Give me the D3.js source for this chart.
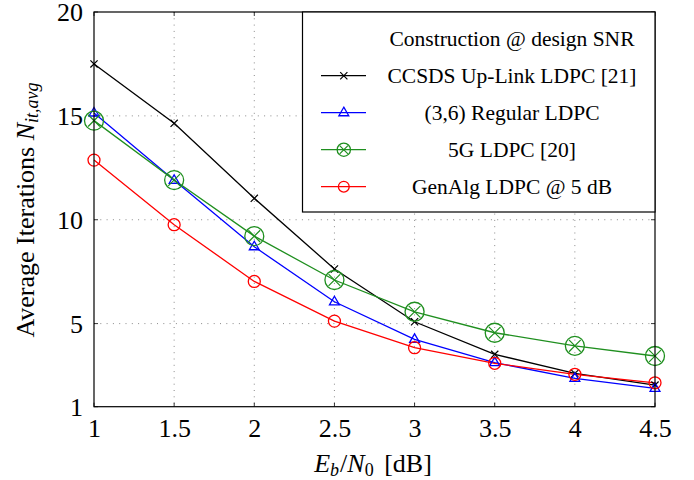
<!DOCTYPE html>
<html><head><meta charset="utf-8">
<script src="https://cdn.jsdelivr.net/npm/d3@7"></script>
<style>body{margin:0;background:#fff}svg{display:block}text{font-family:"Liberation Serif","Times New Roman",serif}</style>
</head><body><svg id="c" width="694" height="480"></svg>
<script>
const snr = [1, 1.5, 2, 2.5, 3, 3.5, 4, 4.5];
const ccsds = [17.5, 14.64, 11.03, 7.63, 5.09, 3.52, 2.60, 2.04];
const regular = [15.14, 11.9, 8.70, 6.05, 4.24, 3.12, 2.36, 1.88];
const fiveG = [14.77, 11.91, 9.21, 7.10, 5.57, 4.56, 3.93, 3.44];
const genAlg = [12.87, 9.76, 7.03, 5.12, 3.84, 3.09, 2.56, 2.15];
const xTicks = [1, 1.5, 2, 2.5, 3, 3.5, 4, 4.5];
const yTicks = [1, 5, 10, 15, 20];
const legendTitle = "Construction @ design SNR";
const seriesNames = ["CCSDS Up-Link LDPC [21]", "(3,6) Regular LDPC", "5G LDPC [20]", "GenAlg LDPC @ 5 dB"];

const svg = d3.select("#c");
const L = 94, R = 655, T = 12, B = 406.7;
const x = d3.scaleLinear().domain([1, 4.5]).range([L, R]);
const y = d3.scaleLinear().domain([1, 20]).range([B, T]);

const series = [
  {name: seriesNames[0], values: ccsds, color: "#000000", marker: "x"},
  {name: seriesNames[1], values: regular, color: "#0000ff", marker: "tri"},
  {name: seriesNames[2], values: fiveG, color: "#1f8f1f", marker: "ox"},
  {name: seriesNames[3], values: genAlg, color: "#ff0000", marker: "o"}
];

// grid
const grid = svg.append("g");
xTicks.filter(t => t > 1 && t < 4.5).forEach(t => {
  grid.append("line").attr("x1", x(t)).attr("x2", x(t)).attr("y1", T).attr("y2", B)
    .attr("stroke", "#8a8a8a").attr("stroke-width", 1).attr("stroke-dasharray", "1,5.3");
});
yTicks.filter(t => t > 1 && t < 20).forEach(t => {
  grid.append("line").attr("x1", L).attr("x2", R).attr("y1", y(t)).attr("y2", y(t))
    .attr("stroke", "#8a8a8a").attr("stroke-width", 1).attr("stroke-dasharray", "1,5.3");
});

// axes
const xAxis = d3.axisBottom(x).tickValues(xTicks).tickSize(0).tickPadding(12).tickFormat(d3.format("~g"));
const gx = svg.append("g").attr("transform", `translate(0,${B})`).call(xAxis);
gx.select(".domain").remove();
gx.selectAll("text").attr("font-size", 26).attr("fill", "#000").attr("font-family", "Liberation Serif");
const yAxis = d3.axisLeft(y).tickValues(yTicks).tickSize(0).tickPadding(11).tickFormat(d3.format("~g"));
const gy = svg.append("g").attr("transform", `translate(${L},0)`).call(yAxis);
gy.select(".domain").remove();
gy.selectAll("text").attr("font-size", 26).attr("fill", "#000").attr("font-family", "Liberation Serif").attr("dy", "0.34em");

// frame ticks
const ft = svg.append("g").attr("stroke", "#000").attr("stroke-width", 0.8);
xTicks.forEach(t => {
  ft.append("line").attr("x1", x(t)).attr("x2", x(t)).attr("y1", B).attr("y2", B - 4);
  ft.append("line").attr("x1", x(t)).attr("x2", x(t)).attr("y1", T).attr("y2", T + 4);
});
yTicks.forEach(t => {
  ft.append("line").attr("x1", L).attr("x2", L + 4).attr("y1", y(t)).attr("y2", y(t));
  ft.append("line").attr("x1", R).attr("x2", R - 4).attr("y1", y(t)).attr("y2", y(t));
});

function drawMarker(g, m, cx, cy, color, scale) {
  const s = scale || 1;
  if (m === "x") {
    const r = 3.6 * s;
    g.append("path").attr("d", `M${cx-r},${cy-r}L${cx+r},${cy+r}M${cx-r},${cy+r}L${cx+r},${cy-r}`)
      .attr("stroke", color).attr("stroke-width", 1.2).attr("fill", "none");
  } else if (m === "tri") {
    const r = 5.5 * s;
    g.append("path").attr("d", `M${cx},${cy-r}L${cx+r*0.9},${cy+r*0.55}L${cx-r*0.9},${cy+r*0.55}Z`)
      .attr("stroke", color).attr("stroke-width", 1.3).attr("fill", "none");
  } else if (m === "ox") {
    const r = 9.5 * s, d = r * 0.62;
    g.append("circle").attr("cx", cx).attr("cy", cy).attr("r", r).attr("stroke", color).attr("stroke-width", 1.3).attr("fill", "none");
    g.append("path").attr("d", `M${cx-d},${cy-d}L${cx+d},${cy+d}M${cx-d},${cy+d}L${cx+d},${cy-d}`)
      .attr("stroke", color).attr("stroke-width", 1.2);
  } else if (m === "o") {
    const r = 6 * s;
    g.append("circle").attr("cx", cx).attr("cy", cy).attr("r", r).attr("stroke", color).attr("stroke-width", 1.3).attr("fill", "none");
  }
}

// lines
const line = d3.line().x((d, i) => x(snr[i])).y(d => y(d));
const plot = svg.append("g");
series.forEach(s => {
  plot.append("path").datum(s.values).attr("d", line).attr("fill", "none")
    .attr("stroke", s.color).attr("stroke-width", 1.3);
});
series.forEach(s => {
  const g = plot.append("g");
  s.values.forEach((v, i) => drawMarker(g, s.marker, x(snr[i]), y(v), s.color, 1));
});

// frame
svg.append("rect").attr("x", L).attr("y", T).attr("width", R - L).attr("height", B - T)
  .attr("fill", "none").attr("stroke", "#000").attr("stroke-width", 1.2);

// legend
const lg = svg.append("g");
lg.append("rect").attr("x", 302.5).attr("y", T).attr("width", R - 302.5).attr("height", 212 - T)
  .attr("fill", "#fff").attr("stroke", "#000").attr("stroke-width", 1.2);
const textX = 512;
lg.append("text").attr("x", textX).attr("y", 38.6).attr("dy", "0.34em").attr("text-anchor", "middle")
  .attr("font-size", 21.5).text(legendTitle);
series.forEach((s, i) => {
  const cy = 75.7 + i * 37;
  lg.append("line").attr("x1", 321).attr("x2", 366).attr("y1", cy).attr("y2", cy)
    .attr("stroke", s.color).attr("stroke-width", 1.3);
  drawMarker(lg, s.marker, 343.8, cy, s.color, s.marker === "ox" ? 0.7 : (s.marker === "o" ? 0.9 : 1));
  lg.append("text").attr("x", textX).attr("y", cy).attr("dy", "0.34em").attr("text-anchor", "middle")
    .attr("font-size", 21.5).text(s.name);
});

// axis labels
const xl = svg.append("text").attr("x", 373).attr("y", 472).attr("text-anchor", "middle").attr("font-size", 26);
xl.append("tspan").attr("font-style", "italic").text("E");
xl.append("tspan").attr("font-style", "italic").attr("font-size", 18).attr("dy", 4).text("b");
xl.append("tspan").attr("dy", -4).attr("dx", 1).text("/");
xl.append("tspan").attr("font-style", "italic").text("N");
xl.append("tspan").attr("font-size", 18).attr("dy", 4).text("0");
xl.append("tspan").attr("dy", -4).attr("dx", 4).text(" [dB]");

const yl = svg.append("text").attr("transform", "translate(34,210) rotate(-90)").attr("text-anchor", "middle").attr("font-size", 26);
yl.append("tspan").text("Average Iterations ");
yl.append("tspan").attr("font-style", "italic").text("N");
yl.append("tspan").attr("font-style", "italic").attr("font-size", 18).attr("dy", 4).text("it,avg");
</script></body></html>
